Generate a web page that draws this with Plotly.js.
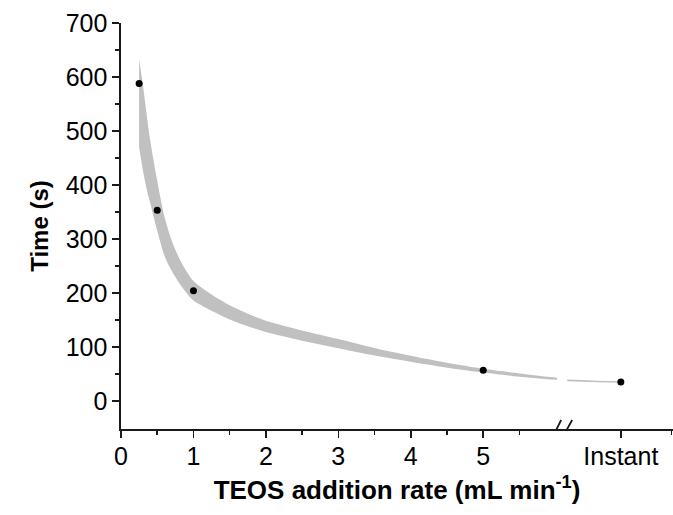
<!DOCTYPE html>
<html>
<head>
<meta charset="utf-8">
<script src="https://cdn.plot.ly/plotly-3.0.1.min.js"></script>
<style>html,body{margin:0;padding:0;background:#fff;}#chart{width:673px;height:515px;}</style>
</head>
<body>
<div id="chart"></div>
<script>
// Measured points (x = addition rate, "Instant" placed at INSTANT_X on the broken axis)
const INSTANT_X = 6.9;
const BREAK_X = 6.09;
const rateX = [0.25, 0.5, 1.0, 5.0, INSTANT_X];
const timeY = [588, 353, 204, 57, 35];

// Confidence band, segment before the axis break
const bandX =     [0.25, 0.3, 0.35, 0.4, 0.5, 0.6, 0.7, 0.8, 0.9, 1.0, 1.25, 1.5, 1.75, 2.0, 2.5, 3.0, 3.5, 4.0, 4.5, 5.0, 5.5, 6.02];
const bandUpper = [632, 588, 535, 485, 408, 341, 297, 265, 241, 222, 197, 177, 161.5, 148.5, 130.5, 114.5, 98, 83.5, 70.5, 59.5, 51, 43];
const bandLower = [470, 429, 395, 368, 315, 269, 241, 219, 201, 186, 167, 151, 138.5, 127.5, 111.5, 97.5, 84, 72.5, 61.5, 52.5, 45, 39];

// Band segment after the axis break
const band2X = [6.16, 6.5, INSTANT_X];
const band2Upper = [39.5, 38, 36.5];
const band2Lower = [36.5, 35, 33.5];

const xTickVals = [0, 1, 2, 3, 4, 5, INSTANT_X];
const xTickText = ['0', '1', '2', '3', '4', '5', 'Instant'];
const xMinorVals = [0.5, 1.5, 2.5, 3.5, 4.5, 5.5, 7.6];
const yTickVals = [0, 100, 200, 300, 400, 500, 600, 700];
const yMinorVals = [50, 150, 250, 350, 450, 550, 650];

const bandColor = 'rgb(192,192,192)';
const sp = {width: 0, color: bandColor, shape: 'spline', smoothing: 0.8};
const traces = [
  {x: bandX, y: bandLower, mode: 'lines', line: sp, hoverinfo: 'skip', showlegend: false},
  {x: bandX, y: bandUpper, mode: 'lines', fill: 'tonexty', fillcolor: bandColor, line: sp, hoverinfo: 'skip', showlegend: false},
  {x: band2X, y: band2Lower, mode: 'lines', line: sp, hoverinfo: 'skip', showlegend: false},
  {x: band2X, y: band2Upper, mode: 'lines', fill: 'tonexty', fillcolor: bandColor, line: sp, hoverinfo: 'skip', showlegend: false},
  {x: rateX, y: timeY, mode: 'markers', marker: {color: '#000', size: 7}, showlegend: false}
];

const font = 'Liberation Sans, Arial, sans-serif';
const axisColor = '#1a1a1a';
const layout = {
  width: 673, height: 515,
  margin: {l: 121, r: 0, t: 23, b: 86},
  paper_bgcolor: '#fff', plot_bgcolor: '#fff',
  showlegend: false,
  font: {family: font, color: '#000', size: 25},
  xaxis: {
    range: [0, 7.62], showgrid: false, zeroline: false,
    showline: true, linecolor: axisColor, linewidth: 1.6,
    ticks: 'outside', ticklen: 7, tickwidth: 1.5, tickcolor: axisColor,
    tickmode: 'array', tickvals: xTickVals, ticktext: xTickText,
    ticklabelstandoff: -3,
    tickfont: {family: font, size: 25, color: '#000'},
    minor: {tickmode: 'array', tickvals: xMinorVals, ticks: 'outside', ticklen: 4, tickwidth: 1.5, tickcolor: axisColor, showgrid: false},
    title: {text: '<b>TEOS addition rate (mL min<sup>-1</sup>)</b>', font: {family: font, size: 26, color: '#000'}, standoff: 12},
    automargin: false
  },
  yaxis: {
    range: [-52, 700], showgrid: false, zeroline: false,
    showline: true, linecolor: axisColor, linewidth: 1.6,
    ticks: 'outside', ticklen: 7, tickwidth: 1.5, tickcolor: axisColor,
    tickmode: 'array', tickvals: yTickVals,
    tickfont: {family: font, size: 25, color: '#000'},
    minor: {tickmode: 'array', tickvals: yMinorVals, ticks: 'outside', ticklen: 4, tickwidth: 1.5, tickcolor: axisColor, showgrid: false},
    title: {text: '<b>Time (s)</b>', font: {family: font, size: 24, color: '#000'}, standoff: 10},
    automargin: false
  },
  shapes: [
    {type: 'rect', xref: 'x', yref: 'y', xsizemode: 'pixel', ysizemode: 'pixel', xanchor: BREAK_X, yanchor: -52,
     x0: -4, x1: 4, y0: -3, y1: 3, line: {width: 0}, fillcolor: '#fff', layer: 'above'},
    {type: 'line', xref: 'x', yref: 'y', xsizemode: 'pixel', ysizemode: 'pixel', xanchor: BREAK_X, yanchor: -52,
     x0: -10, x1: -1, y0: -9, y1: 9, line: {color: axisColor, width: 1.8}, layer: 'above'},
    {type: 'line', xref: 'x', yref: 'y', xsizemode: 'pixel', ysizemode: 'pixel', xanchor: BREAK_X, yanchor: -52,
     x0: 0, x1: 10, y0: -9, y1: 9, line: {color: axisColor, width: 1.8}, layer: 'above'}
  ]
};

Plotly.newPlot('chart', traces, layout, {displayModeBar: false, staticPlot: true});
</script>
</body>
</html>
